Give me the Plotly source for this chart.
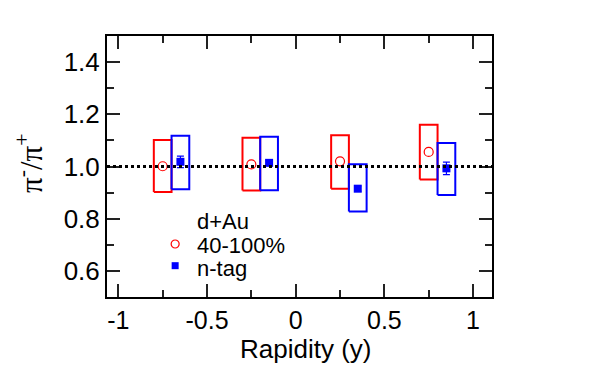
import plotly.graph_objects as go

# ---- data ----
rapidity_periph = [-0.75, -0.25, 0.25, 0.75]
ratio_periph = [1.001, 1.008, 1.020, 1.056]
sys_lo_periph = [0.902, 0.908, 0.915, 0.950]
sys_hi_periph = [1.102, 1.110, 1.120, 1.160]

rapidity_ntag = [-0.65, -0.15, 0.35, 0.85]
ratio_ntag = [1.018, 1.014, 0.915, 0.993]
stat_ntag = [0.022, 0.010, 0.010, 0.024]
sys_lo_ntag = [0.913, 0.909, 0.828, 0.891]
sys_hi_ntag = [1.118, 1.114, 1.009, 1.090]

x_ticks = [-1, -0.5, 0, 0.5, 1]
x_tick_labels = ["-1", "-0.5", "0", "0.5", "1"]
y_ticks = [0.6, 0.8, 1.0, 1.2, 1.4]
y_tick_labels = ["0.6", "0.8", "1.0", "1.2", "1.4"]

legend_title = "d+Au"
label_periph = "40-100%"
label_ntag = "n-tag"
reference_ratio = 1.0

# ---- style ----
RED = "#ff0000"
BLUE = "#0000ff"
BOX_HALF = 0.05
FONT = "Liberation Sans, Arial, Helvetica, sans-serif"

fig = go.Figure()


def add_boxes(xs, los, his, color):
    for xc, lo, hi in zip(xs, los, his):
        fig.add_trace(go.Scatter(
            x=[xc - BOX_HALF, xc + BOX_HALF, xc + BOX_HALF, xc - BOX_HALF, xc - BOX_HALF],
            y=[lo, lo, hi, hi, lo],
            mode="lines", line=dict(color=color, width=2),
            showlegend=False, hoverinfo="skip"))


add_boxes(rapidity_periph, sys_lo_periph, sys_hi_periph, RED)
add_boxes(rapidity_ntag, sys_lo_ntag, sys_hi_ntag, BLUE)

fig.add_hline(y=reference_ratio, line=dict(color="black", width=2.8, dash="dot"))

fig.add_trace(go.Scatter(
    x=rapidity_periph, y=ratio_periph, mode="markers",
    marker=dict(symbol="circle-open", size=9, color=RED, line=dict(width=1.2, color=RED)),
    showlegend=False))
fig.add_trace(go.Scatter(
    x=rapidity_ntag, y=ratio_ntag, mode="markers",
    error_y=dict(type="data", array=stat_ntag, color=BLUE, thickness=1.2, width=3.5),
    marker=dict(symbol="square", size=8, color=BLUE),
    showlegend=False))

# legend keys on an overlay axis in unit coordinates
LEG_KEY_X = 0.177
fig.add_trace(go.Scatter(
    x=[LEG_KEY_X], y=[0.203], xaxis="x2", yaxis="y2", mode="markers",
    marker=dict(symbol="circle-open", size=8, color=RED, line=dict(width=1.2, color=RED)),
    showlegend=False, hoverinfo="skip"))
fig.add_trace(go.Scatter(
    x=[LEG_KEY_X], y=[0.120], xaxis="x2", yaxis="y2", mode="markers",
    marker=dict(symbol="square", size=7, color=BLUE),
    showlegend=False, hoverinfo="skip"))

LEG_TEXT_X = 0.229
for txt, yy in [(legend_title, 0.288), (label_periph, 0.198), (label_ntag, 0.109)]:
    fig.add_annotation(text=txt, x=LEG_TEXT_X, y=yy, xref="paper", yref="paper",
                       xanchor="left", yanchor="middle", showarrow=False,
                       font=dict(family=FONT, size=22, color="black"))

# axis titles
fig.add_annotation(text="Rapidity (y)", x=0.516, y=-0.198, xref="paper", yref="paper",
                   xanchor="center", yanchor="middle", showarrow=False,
                   font=dict(family=FONT, size=26, color="black"))
fig.add_annotation(text="π<sup>-</sup>/π<sup>+</sup>", x=-0.2, y=0.51,
                   xref="paper", yref="paper", textangle=-90,
                   xanchor="center", yanchor="middle", showarrow=False,
                   font=dict(family="Liberation Serif, Times New Roman, serif", size=31, color="black"))

axis_common = dict(
    showgrid=False, zeroline=False, showline=True, linecolor="black", linewidth=2,
    mirror="allticks", ticks="inside", tickcolor="#222222", tickwidth=1.5, ticklen=13,
)

# the page body has an 8px margin, so the figure is 8px smaller and margins shifted
fig.update_layout(
    width=592, height=360,
    margin=dict(l=99, r=108, t=28, b=71),
    paper_bgcolor="white", plot_bgcolor="white",
    xaxis=dict(range=[-1.064, 1.107], tickvals=x_ticks, ticktext=x_tick_labels,
               tickfont=dict(family=FONT, size=25, color="black"),
               minor=dict(dtick=0.25, ticks="inside", ticklen=7, tickcolor="#222222", tickwidth=1.5),
               **axis_common),
    yaxis=dict(range=[0.5, 1.5], tickvals=y_ticks, ticktext=y_tick_labels,
               tickfont=dict(family=FONT, size=26, color="black"),
               minor=dict(dtick=0.1, ticks="inside", ticklen=7, tickcolor="#222222", tickwidth=1.5),
               **axis_common),
    xaxis2=dict(overlaying="x", range=[0, 1], visible=False),
    yaxis2=dict(overlaying="y", range=[0, 1], visible=False),
    showlegend=False,
)

fig.write_html("out.html")
